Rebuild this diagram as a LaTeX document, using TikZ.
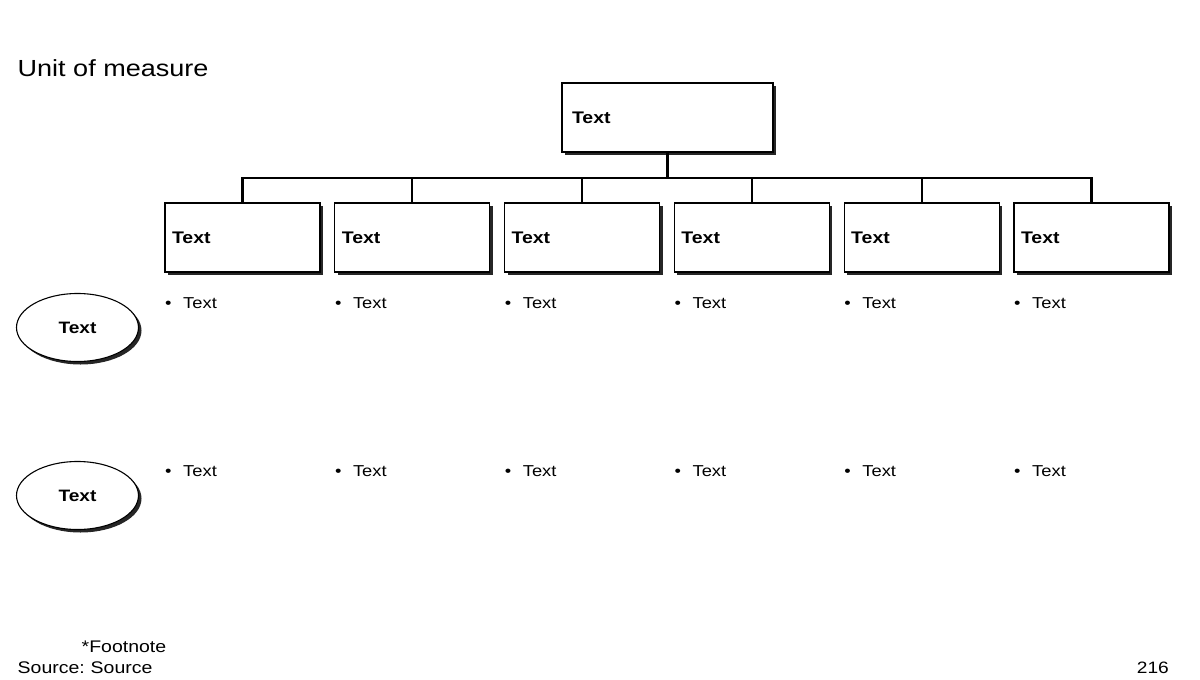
\documentclass[tikz,border=0pt]{standalone}
\usepackage{fontspec}
\usepackage{graphicx}
\setmainfont{Liberation Sans}
\usetikzlibrary{shapes.geometric,shadows,calc}
\newcommand{\hs}[1]{\scalebox{1.16}[1]{#1}}
\tikzset{
  shd/.style={drop shadow={shadow xshift=3pt, shadow yshift=-3pt, fill=black, opacity=0.85}},
  topbox/.style={draw=black, line width=1.1pt, fill=white, shd, rectangle, minimum height=69pt, inner xsep=10pt, inner ysep=0pt, align=left, text width=191pt, font=\fontsize{16.8}{18}\selectfont\bfseries},
  childbox/.style={draw=black, line width=1.1pt, fill=white, shd, rectangle, minimum height=69pt, inner xsep=7pt, inner ysep=0pt, align=left, text width=141pt, font=\fontsize{16.8}{18}\selectfont\bfseries},
  oval/.style={draw=black, line width=1.1pt, fill=white, shd, ellipse, minimum width=122pt, minimum height=68pt, inner sep=0pt, font=\fontsize{16.5}{18}\selectfont\bfseries},
  conn/.style={draw=black, line width=2.2pt},
  bul/.style={anchor=west, inner sep=0pt, font=\fontsize{15.8}{17}\selectfont},
  plain/.style={inner sep=0pt, font=\fontsize{16.8}{18}\selectfont},
}
\begin{document}
\begin{tikzpicture}[x=1pt,y=-1pt]
\useasboundingbox (0,0) rectangle (1200,680);
\fill[white] (0,0) rectangle (1200,680);

\node[anchor=west, inner sep=0pt, font=\fontsize{23.3}{25}\selectfont] (title) at (17.5,68) {\hs{Unit of measure}};

\node[topbox] (top) at (667.5,117.5) {\hs{Text}};
\foreach \i in {1,...,6} {
  \node[childbox] (c\i) at ({242.5+169.8*(\i-1)},237.5) {\hs{Text}};
}
\coordinate (bus) at (0,178);
\draw[conn] (top.south) -- (top.south |- bus);
\draw[conn] (c1.north) |- (c6.north |- bus) -- (c6.north);
\foreach \i in {2,...,5} {
  \draw[conn] (c\i.north) -- (c\i.north |- bus);
}

\node[oval] (o1) at (77.5,327.5) {\hs{Text}};
\node[oval] (o2) at (77.5,495.5) {\hs{Text}};

\foreach \i in {1,...,6} {
  \node[bul] (b1\i) at ({165+169.8*(\i-1)},303) {\hs{\textbullet\hspace{10pt}Text}};
  \node[bul] (b2\i) at ({165+169.8*(\i-1)},471) {\hs{\textbullet\hspace{10pt}Text}};
}

\node[plain, anchor=west] (fn) at (81.5,647) {\hs{*Footnote}};
\node[plain, anchor=west] (src) at (17.5,668) {\hs{Source:\hspace{0.3em}Source}};
\node[plain, anchor=east, font=\fontsize{16.5}{18}\selectfont] (pg) at (1169,668) {\hs{216}};
\end{tikzpicture}
\end{document}
